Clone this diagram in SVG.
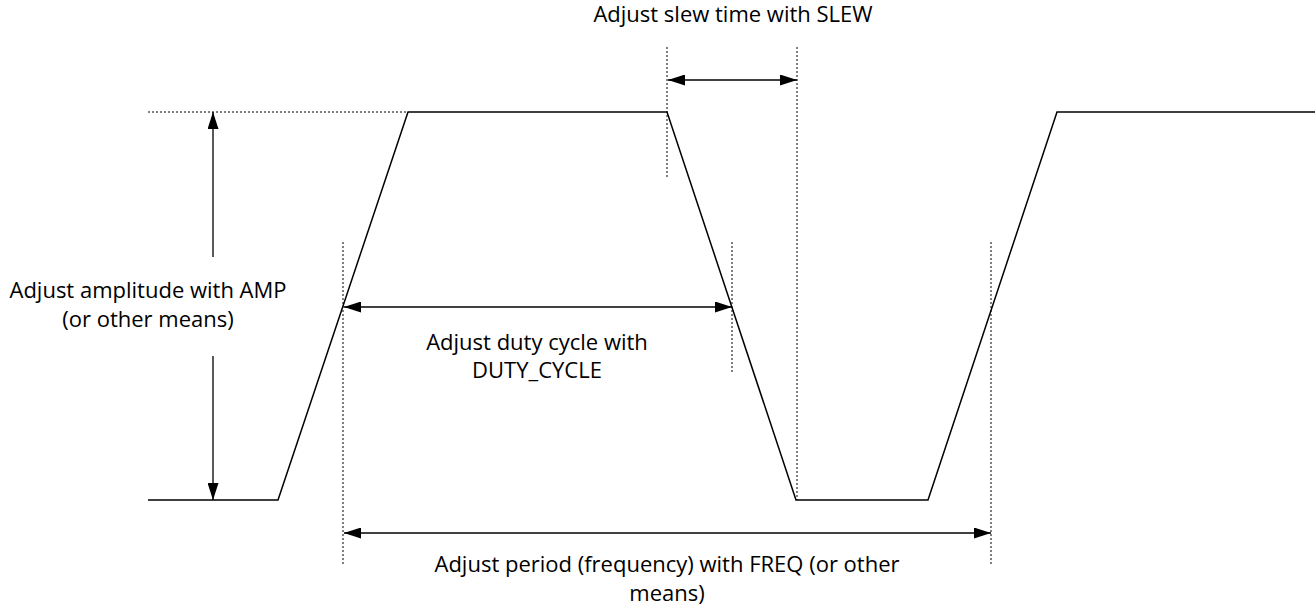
<svg xmlns="http://www.w3.org/2000/svg" width="1316" height="610" viewBox="0 0 1316 610">
<style>
.wave{fill:none;stroke:#000;stroke-width:1.5}
.dot{fill:none;stroke:#000;stroke-width:1;stroke-dasharray:2,2}
.arr{fill:none;stroke:#000;stroke-width:1.3}
text{font-family:"Open Sans","Liberation Sans",Arial,sans-serif;font-size:22px;fill:#000;text-anchor:middle}
</style>
<defs>
<marker id="ah" viewBox="0 0 17 11" refX="17" refY="5.5" markerWidth="17" markerHeight="11" markerUnits="userSpaceOnUse" orient="auto-start-reverse">
<path d="M0,0 L17,5.5 L0,11 Z" fill="#000"/>
</marker>
</defs>
<g id="waveform">
<polyline class="wave" points="148,500 278,500 408,112 667,112 796,500 928,500 1057,112 1315,112"/>
</g>
<g id="guides">
<line class="dot" x1="148" y1="112" x2="408" y2="112"/>
<line class="dot" x1="667" y1="47" x2="667" y2="178"/>
<line class="dot" x1="797" y1="47" x2="797" y2="500"/>
<line class="dot" x1="343" y1="242" x2="343" y2="566"/>
<line class="dot" x1="732" y1="242" x2="732" y2="372"/>
<line class="dot" x1="991" y1="242" x2="991" y2="566"/>
</g>
<g id="connectors">
<line class="arr" x1="213" y1="257" x2="213" y2="112" marker-end="url(#ah)"/>
<line class="arr" x1="213" y1="356" x2="213" y2="500" marker-end="url(#ah)"/>
<line class="arr" x1="668" y1="80" x2="797" y2="80" marker-start="url(#ah)" marker-end="url(#ah)"/>
<line class="arr" x1="344" y1="307" x2="732" y2="307" marker-start="url(#ah)" marker-end="url(#ah)"/>
<line class="arr" x1="344" y1="533" x2="991" y2="533" marker-start="url(#ah)" marker-end="url(#ah)"/>
</g>
<g id="label-slew"><text x="733" y="22">Adjust slew time with SLEW</text></g>
<g id="label-amp"><text x="148" y="298">Adjust amplitude with AMP</text><text x="148" y="327">(or other means)</text></g>
<g id="label-duty"><text x="537" y="350">Adjust duty cycle with</text><text x="537" y="378">DUTY_CYCLE</text></g>
<g id="label-period"><text x="667" y="572">Adjust period (frequency) with FREQ (or other</text><text x="667" y="601">means)</text></g>
</svg>
